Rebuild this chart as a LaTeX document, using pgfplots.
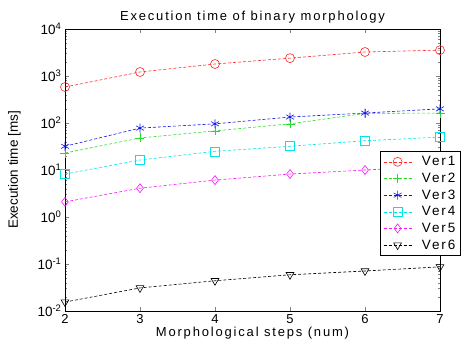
\documentclass[border=0pt]{standalone}
\usepackage{fontspec}
\setmainfont{Liberation Sans}
\newfontfamily\spaced[LetterSpace=14]{Liberation Sans}
\usepackage{pgfplots}
\pgfplotsset{compat=1.18}
\definecolor{cR}{RGB}{255,40,40}
\definecolor{cG}{RGB}{40,220,40}
\definecolor{cB}{RGB}{20,20,230}
\definecolor{cC}{RGB}{0,230,230}
\definecolor{cM}{RGB}{250,20,250}
\begin{document}
\begin{tikzpicture}
\begin{axis}[
  scale only axis, width=375pt, height=282pt,
  ymode=log, xmin=2, xmax=7, ymin=1e-2, ymax=1e4,
  xtick={2,3,4,5,6,7},
  ytick={1e-2,1e-1,1,10,100,1000,10000},
  yticklabels={10\textsuperscript{-2},10\textsuperscript{-1},10\textsuperscript{0},10\textsuperscript{1},10\textsuperscript{2},10\textsuperscript{3},10\textsuperscript{4}},
  xticklabel style={font=\fontsize{13}{15}\selectfont},
  yticklabel style={font=\fontsize{13.5}{15}\selectfont},
  /pgf/number format/assume math mode=true,
  tick align=inside, tick pos=both,
  major tick length=4pt, minor tick length=2pt,
  axis line style={line width=0.8pt},
  title={\spaced\fontsize{13}{15}\selectfont Execution time of binary morphology},
  title style={yshift=-4pt},
  xlabel={\spaced\fontsize{13}{15}\selectfont Morphological steps (num)},
  ylabel={\fontsize{13.5}{15}\selectfont Execution time [ms]},
  ylabel style={yshift=10pt},
  xlabel style={yshift=4pt},
  legend style={at={(0.84,0.567)}, anchor=north west, font=\spaced\fontsize{13.5}{15}\selectfont,
    draw=black, line width=0.6pt, row sep=1.8pt, inner sep=3pt},
  legend cell align=left,
  legend image code/.code={\draw[#1] (0pt,0pt) -- (28pt,0pt); \draw[#1,mark repeat=2,mark phase=2] plot coordinates {(0pt,0pt) (14pt,0pt) (28pt,0pt)}; \path (36pt,0pt);},
  every axis plot/.append style={densely dashed, line width=0.6pt, mark size=4.5pt, mark options={solid}},
]
\addplot[cR, mark=o] coordinates {(2,583) (3,1217) (4,1800) (5,2400) (6,3240) (7,3550)};
\addlegendentry{Ver1}
\addplot[cG, mark=+] coordinates {(2,23) (3,48) (4,68) (5,96) (6,160) (7,163)};
\addlegendentry{Ver2}
\addplot[cB, mark=asterisk] coordinates {(2,32) (3,78) (4,96) (5,134) (6,163) (7,200)};
\addlegendentry{Ver3}
\addplot[cC, mark=square] coordinates {(2,8.2) (3,16.3) (4,25) (5,32) (6,42) (7,50)};
\addlegendentry{Ver4}
\addplot[cM, mark=diamond] coordinates {(2,2.1) (3,4.1) (4,6.1) (5,8.2) (6,10) (7,12)};
\addlegendentry{Ver5}
\addplot[black, mark=triangle, mark options={solid, rotate=180}] coordinates {(2,0.0155) (3,0.031) (4,0.044) (5,0.059) (6,0.071) (7,0.087)};
\addlegendentry{Ver6}
\end{axis}
\useasboundingbox (current axis.south west) ++(-65pt,-38pt) rectangle ++(474pt,349pt);
\end{tikzpicture}
\end{document}
